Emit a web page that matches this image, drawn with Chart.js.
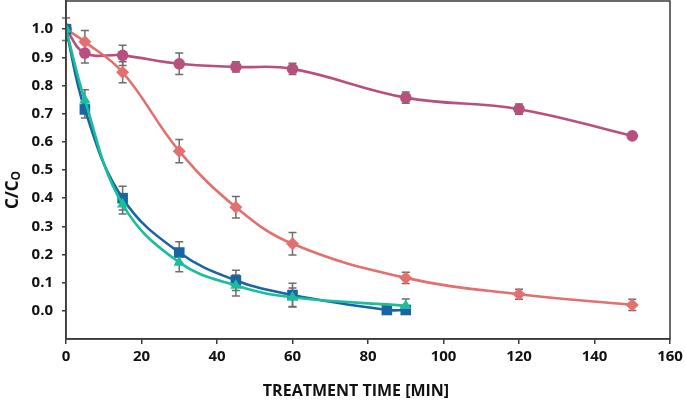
<!DOCTYPE html>
<html>
<head>
<meta charset="utf-8">
<script src="https://cdn.jsdelivr.net/npm/chart.js@4/dist/chart.umd.min.js"></script>
<style>
  html, body { margin: 0; padding: 0; background: #fff; }
  #wrap { width: 685px; height: 403px; }
</style>
</head>
<body>
<div id="wrap"><canvas id="chart"></canvas></div>
<script>
// --- data ---
const magTime = [0, 5, 15, 30, 45, 60, 90, 120, 150];
const magVal  = [1.0, 0.915, 0.907, 0.877, 0.866, 0.859, 0.757, 0.716, 0.621];
const magErr  = [0, 0.035, 0.036, 0.038, 0.018, 0.02, 0.02, 0.018, 0];

const salTime = [0, 5, 15, 30, 45, 60, 90, 120, 150];
const salVal  = [1.0, 0.955, 0.847, 0.567, 0.368, 0.238, 0.117, 0.059, 0.021];
const salErr  = [0.04, 0.04, 0.037, 0.041, 0.038, 0.04, 0.02, 0.018, 0.02];

const bluTime = [0, 5, 15, 30, 45, 60, 85, 90];
const bluVal  = [1.0, 0.715, 0.4, 0.207, 0.108, 0.056, 0.003, 0.003];
const bluErr  = [0, 0.03, 0.042, 0.038, 0.036, 0.042, 0, 0];

const tealTime = [0, 5, 15, 30, 45, 60, 90];
const tealVal  = [1.0, 0.748, 0.378, 0.172, 0.09, 0.048, 0.018];
const tealErr  = [0, 0.037, 0.034, 0.033, 0.037, 0.033, 0.024];

const xTicks = [0, 20, 40, 60, 80, 100, 120, 140, 160];
const yTicks = [0.0, 0.1, 0.2, 0.3, 0.4, 0.5, 0.6, 0.7, 0.8, 0.9, 1.0];

const FONT = "'Open Sans', sans-serif";
const AXIS = '#3a3a3a';

function pts(t, v, e) {
  return t.map((x, i) => ({ x: x, y: v[i], err: e[i] }));
}

function series(label, t, v, e, color, style, radius, order) {
  return {
    label: label,
    data: pts(t, v, e),
    showLine: true,
    borderColor: color,
    backgroundColor: color,
    borderWidth: 2.6,
    pointStyle: style,
    pointRadius: radius,
    pointBorderWidth: 0,
    pointBackgroundColor: color,
    tension: 0.4,
    order: order
  };
}

// error bars, drawn behind the markers
const errorBars = {
  id: 'errorBars',
  beforeDatasetsDraw(chart) {
    const { ctx, scales: { x, y } } = chart;
    ctx.save();
    ctx.strokeStyle = '#6e6e6e';
    ctx.lineWidth = 1.5;
    chart.data.datasets.forEach(ds => {
      ds.data.forEach(p => {
        if (!p.err) return;
        const px = x.getPixelForValue(p.x);
        const top = y.getPixelForValue(p.y + p.err);
        const bot = y.getPixelForValue(p.y - p.err);
        ctx.beginPath();
        ctx.moveTo(px, top); ctx.lineTo(px, bot);
        ctx.moveTo(px - 4, top); ctx.lineTo(px + 4, top);
        ctx.moveTo(px - 4, bot); ctx.lineTo(px + 4, bot);
        ctx.stroke();
      });
    });
    ctx.restore();
  }
};

// frame round the plot area and the axis titles
const frameAndTitles = {
  id: 'frameAndTitles',
  afterDraw(chart) {
    const { ctx, chartArea: a } = chart;
    ctx.save();
    ctx.strokeStyle = AXIS;
    ctx.lineWidth = 1.5;
    ctx.strokeRect(a.left, a.top, a.right - a.left, a.bottom - a.top);

    ctx.fillStyle = '#111';
    ctx.font = 'bold 16px ' + FONT;
    ctx.textAlign = 'center';
    ctx.textBaseline = 'middle';
    ctx.fillText('TREATMENT TIME [MIN]', 356, 391);

    // rotated C/Co with subscript
    ctx.translate(13, 190);
    ctx.rotate(-Math.PI / 2);
    ctx.font = 'bold 17px ' + FONT;
    ctx.textAlign = 'left';
    ctx.textBaseline = 'middle';
    const main = 'C/C';
    const w = ctx.measureText(main).width;
    ctx.font = 'bold 12px ' + FONT;
    const ws = ctx.measureText('O').width;
    const start = -(w + ws) / 2;
    ctx.font = 'bold 17px ' + FONT;
    ctx.fillText(main, start, 0);
    ctx.font = 'bold 12px ' + FONT;
    ctx.fillText('O', start + w, 4);
    ctx.restore();
  }
};

const ctx = document.getElementById('chart');

new Chart(ctx, {
  type: 'scatter',
  data: {
    datasets: [
      series('Teal', tealTime, tealVal, tealErr, '#1ABE9A', 'triangle', 6.5, 1),
      series('Blue', bluTime, bluVal, bluErr, '#1A64A4', 'rect', 7.5, 2),
      series('Salmon', salTime, salVal, salErr, '#E2706F', 'rectRot', 6.5, 3),
      series('Magenta', magTime, magVal, magErr, '#B8507E', 'circle', 5.8, 4)
    ]
  },
  options: {
    responsive: true,
    maintainAspectRatio: false,
    animation: false,
    layout: { autoPadding: false, padding: { top: 1, right: 15, left: 0, bottom: 0 } },
    plugins: {
      legend: { display: false },
      tooltip: { enabled: false }
    },
    scales: {
      x: {
        type: 'linear',
        min: 0,
        max: 160,
        afterBuildTicks: s => { s.ticks = xTicks.map(v => ({ value: v })); },
        grid: { drawOnChartArea: false, color: AXIS, tickLength: 5, lineWidth: 1.5 },
        border: { color: AXIS, width: 1.5 },
        ticks: {
          color: '#111',
          font: { family: FONT, size: 15, weight: 'bold' },
          padding: 4,
          maxRotation: 0
        },
        afterFit: s => { s.height = 64; s.paddingRight = 0; s.paddingLeft = 0; }
      },
      y: {
        min: -0.1,
        max: 1.1,
        afterBuildTicks: s => { s.ticks = yTicks.map(v => ({ value: v })); },
        grid: { drawOnChartArea: false, color: AXIS, tickLength: 4, lineWidth: 1.5 },
        border: { color: AXIS, width: 1.5 },
        ticks: {
          color: '#111',
          font: { family: FONT, size: 15, weight: 'bold' },
          padding: 9,
          callback: v => v.toFixed(1)
        },
        afterFit: s => { s.width = 66; s.paddingTop = 0; s.paddingBottom = 0; }
      }
    }
  },
  plugins: [errorBars, frameAndTitles]
});
</script>
</body>
</html>
